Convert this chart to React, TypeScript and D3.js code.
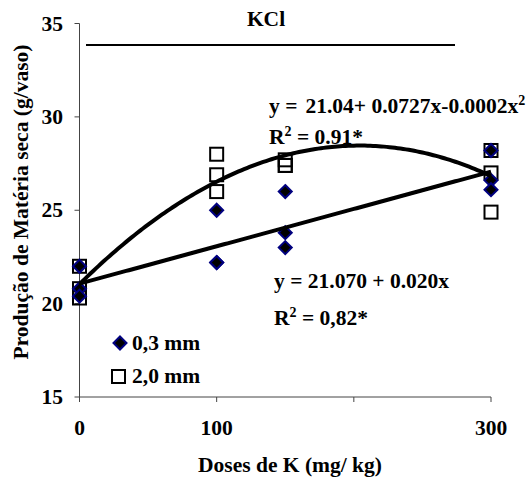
import React from 'react';
import * as d3 from 'd3';

// doses (mg/kg) and dry matter (g/vaso)
const doses = [0, 0, 0, 100, 100, 100, 150, 150, 150, 300, 300, 300];
const fine = [22.0, 20.8, 20.4, 25.0, 22.2, 22.2, 26.0, 23.8, 23.0, 28.2, 26.6, 26.1];
const coarse = [22.0, 20.8, 20.3, 28.0, 26.9, 26.0, 27.7, 27.4, 27.4, 28.2, 27.0, 24.9];

const xTicks = [0, 100, 200, 300];
const xTickLabels = ['0', '100', '', '300'];
const yTicks = [15, 20, 25, 30, 35];

// regression coefficients (a, b, c) as drawn
const linCoef = [21.07, 0.02];
const quadCoef = [21.04, 0.0727, -0.000178];

const W = 526;
const H = 477;
const font = '"Liberation Serif", "Times New Roman", serif';
const fs = 21.5;
const sup = 14;

const App = () => {
  const x = d3.scaleLinear().domain([0, 300]).range([79.5, 491]);
  const y = d3.scaleLinear().domain([15, 35]).range([397, 23.5]);

  const xs = d3.range(0, 301, 2);
  const linPath = d3.line<number>()
    .x(d => x(d))
    .y(d => y(linCoef[0] + linCoef[1] * d));
  const quadPath = d3.line<number>()
    .x(d => x(d))
    .y(d => y(quadCoef[0] + quadCoef[1] * d + quadCoef[2] * d * d));

  const diamond = (cx: number, cy: number, r: number) =>
    `M${cx},${cy - r}L${cx + r},${cy}L${cx},${cy + r}L${cx - r},${cy}Z`;

  return (
    <svg width={W} height={H} style={{ position: 'absolute', left: 0, top: 0, background: '#fff' }}
      fontFamily={font} fontWeight="bold">
      {/* title */}
      <text x={266} y={26} textAnchor="middle" fontSize={fs}>KCl</text>
      <line x1={86} x2={455} y1={45} y2={45} stroke="#000" strokeWidth={2} />

      {/* axes */}
      <line x1={x(0)} x2={x(0)} y1={y(35)} y2={y(15)} stroke="#444" strokeWidth={1} />
      <line x1={x(0)} x2={x(300)} y1={y(15)} y2={y(15)} stroke="#444" strokeWidth={1} />
      {yTicks.map(t => (
        <g key={'y' + t}>
          <line x1={x(0) - 5} x2={x(0)} y1={y(t)} y2={y(t)} stroke="#444" />
          <text x={63} y={y(t) + 7} textAnchor="end" fontSize={fs}>{t}</text>
        </g>
      ))}
      {xTicks.map((t, i) => (
        <g key={'x' + t}>
          <line x1={x(t)} x2={x(t)} y1={y(15)} y2={y(15) + 5} stroke="#444" />
          <text x={x(t)} y={435} textAnchor="middle" fontSize={fs}>{xTickLabels[i]}</text>
        </g>
      ))}

      <text x={290} y={472} textAnchor="middle" fontSize={fs}>Doses de K (mg/ kg)</text>
      <text transform={`translate(28,${202}) rotate(-90)`} textAnchor="middle" fontSize={fs}>
        Produção de Matéria seca (g/vaso)
      </text>

      {/* markers */}
      {doses.map((d, i) => (
        <rect key={'s' + i} x={x(d) - 6.5} y={y(coarse[i]) - 6.5} width={13} height={13}
          fill="none" stroke="#000" strokeWidth={2} />
      ))}
      {doses.map((d, i) => (
        <path key={'d' + i} d={diamond(x(d), y(fine[i]), 6.5)} fill="#000" stroke="#000080" strokeWidth={2} />
      ))}

      {/* fitted curves */}
      <path d={linPath(xs) || ''} fill="none" stroke="#000" strokeWidth={4} />
      <path d={quadPath(xs) || ''} fill="none" stroke="#000" strokeWidth={4} />

      {/* equations */}
      <text x={269} y={113} fontSize={fs}>
        y =<tspan dx={8}>21.04+ 0.0727x-0.0002x</tspan><tspan dy={-8} fontSize={sup}>2</tspan>
      </text>
      <text x={269} y={144} fontSize={fs}>
        R<tspan dy={-8} fontSize={sup}>2</tspan><tspan dy={8}> = 0.91*</tspan>
      </text>
      <text x={274} y={288} fontSize={fs}>y = 21.070 + 0.020x</text>
      <text x={274} y={325} fontSize={fs}>
        R<tspan dy={-8} fontSize={sup}>2</tspan><tspan dy={8}> = 0,82*</tspan>
      </text>

      {/* legend */}
      <path d={diamond(120, 343, 6.5)} fill="#000" stroke="#000080" strokeWidth={2} />
      <text x={132} y={350} fontSize={fs}>0,3 mm</text>
      <rect x={112} y={370} width={13} height={13} fill="none" stroke="#000" strokeWidth={2} />
      <text x={132} y={383} fontSize={fs}>2,0 mm</text>
    </svg>
  );
};

export default App;
